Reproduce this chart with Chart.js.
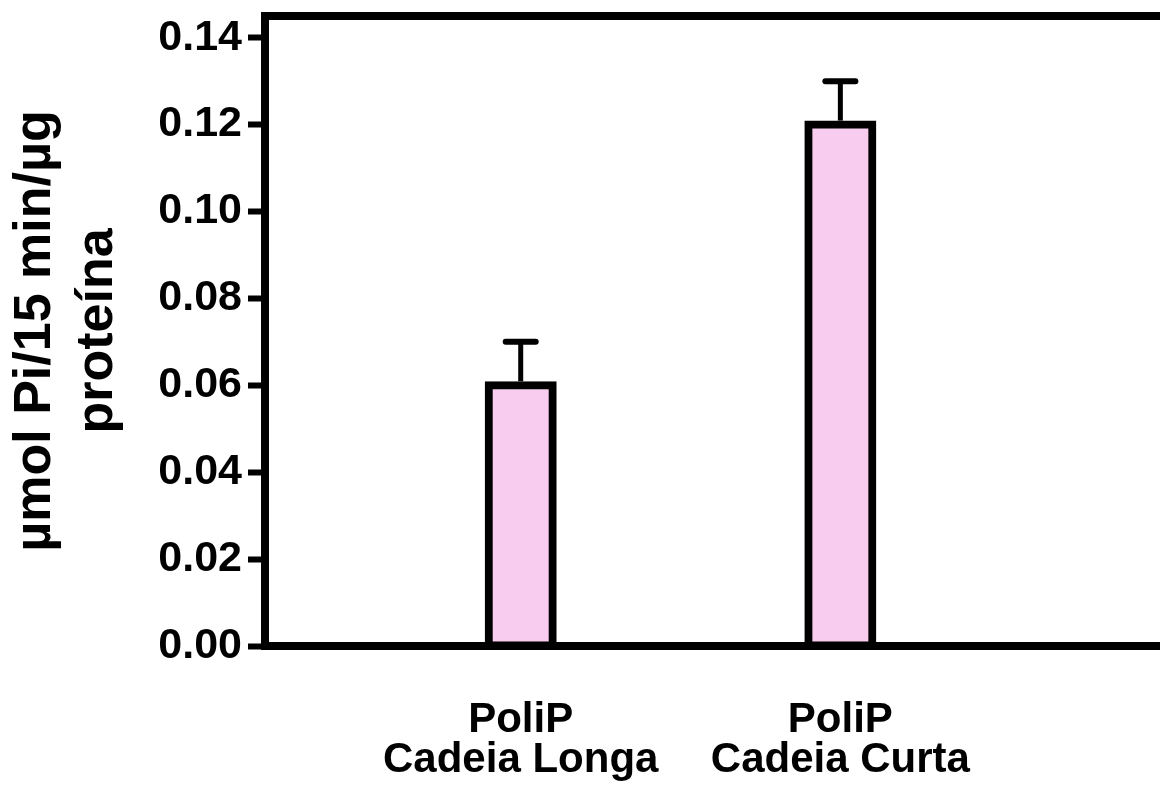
<!DOCTYPE html>
<html>
<head>
<meta charset="utf-8">
<script src="https://cdn.jsdelivr.net/npm/chart.js@4/dist/chart.umd.min.js"></script>
<style>
  html, body { margin: 0; padding: 0; background: #fff; }
  #wrap { width: 1160px; height: 789px; position: relative; }
</style>
</head>
<body>
<div id="wrap"><canvas id="chart"></canvas></div>
<script>
// Polyphosphatase activity per substrate
const categories = [
  ['PoliP', 'Cadeia Longa'],
  ['PoliP', 'Cadeia Curta']
];
const activity = [0.06, 0.12];   // µmol Pi / 15 min / µg protein
const errors   = [0.01, 0.01];   // upper error (SEM)
const yTicks   = [0, 0.02, 0.04, 0.06, 0.08, 0.10, 0.12, 0.14];
const yTitle   = ['µmol Pi/15 min/µg', 'proteína'];

const FONT = "Arial, 'Liberation Sans', Helvetica, sans-serif";
const BLACK = '#000000';
const PINK = 'rgb(248, 204, 238)';

// Upper error bars drawn from the bar values through the y scale
const errorBars = {
  id: 'errorBars',
  afterDatasetsDraw(chart) {
    const { ctx } = chart;
    const yScale = chart.scales.y;
    const meta = chart.getDatasetMeta(0);
    ctx.save();
    ctx.strokeStyle = BLACK;
    meta.data.forEach((bar, i) => {
      const yVal = yScale.getPixelForValue(activity[i]);
      const yErr = yScale.getPixelForValue(activity[i] + errors[i]);
      ctx.lineCap = 'butt';
      ctx.lineWidth = 5;
      ctx.beginPath();
      ctx.moveTo(bar.x, yVal - 4);
      ctx.lineTo(bar.x, yErr);
      ctx.stroke();
      ctx.lineCap = 'round';
      ctx.lineWidth = 6;
      ctx.beginPath();
      ctx.moveTo(bar.x - 15, yErr);
      ctx.lineTo(bar.x + 15, yErr);
      ctx.stroke();
    });
    ctx.restore();
  }
};

// Top edge of the plot frame
const frameTop = {
  id: 'frameTop',
  afterDatasetsDraw(chart) {
    const { ctx, chartArea } = chart;
    ctx.save();
    ctx.strokeStyle = BLACK;
    ctx.lineWidth = 8;
    ctx.beginPath();
    ctx.moveTo(chartArea.left - 4, chartArea.top);
    ctx.lineTo(chartArea.right + 4, chartArea.top);
    ctx.stroke();
    ctx.restore();
  }
};

new Chart(document.getElementById('chart'), {
  type: 'bar',
  data: {
    datasets: [{
      data: activity.map((v, i) => ({ x: i + 1, y: v })),
      backgroundColor: PINK,
      borderColor: BLACK,
      borderWidth: 8,
      borderSkipped: false,
      barThickness: 64,
      inflateAmount: 4
    }]
  },
  options: {
    responsive: true,
    maintainAspectRatio: false,
    animation: false,
    layout: { padding: { top: 16, right: 0, bottom: 0, left: 0 } },
    plugins: { legend: { display: false }, tooltip: { enabled: false } },
    scales: {
      x: {
        type: 'linear',
        min: 0.2,
        max: 3.0,
        offset: false,
        grid: { display: false, offset: false },
        border: { display: true, color: BLACK, width: 8 },
        afterBuildTicks(scale) {
          scale.ticks = categories.map((_, i) => ({ value: i + 1 }));
        },
        afterFit(scale) {
          scale.height = 143;
          scale.paddingLeft = 0;
          scale.paddingRight = 0;
        },
        ticks: {
          padding: 46,
          color: BLACK,
          maxRotation: 0,
          autoSkip: false,
          font: { family: FONT, size: 42, weight: 'bold', lineHeight: '40px' },
          callback: (value) => categories[value - 1] || ''
        }
      },
      y: {
        min: 0,
        max: 0.145,
        grid: {
          display: true,
          drawOnChartArea: false,
          drawTicks: true,
          tickLength: 17,
          tickWidth: 6,
          tickColor: BLACK
        },
        border: { display: true, color: BLACK, width: 8 },
        afterBuildTicks(scale) {
          scale.ticks = yTicks.map(v => ({ value: v }));
        },
        afterFit(scale) {
          scale.width = 265;
          scale.paddingTop = 0;
          scale.paddingBottom = 0;
        },
        ticks: {
          padding: 6,
          color: BLACK,
          font: { family: FONT, size: 43, weight: 'bold' },
          callback: (value) => Number(value).toFixed(2)
        },
        title: {
          display: true,
          text: yTitle,
          color: BLACK,
          padding: { top: 4, bottom: 29 },
          font: { family: FONT, size: 52, weight: 'bold', lineHeight: 1.2 }
        }
      }
    }
  },
  plugins: [errorBars, frameTop]
});
</script>
</body>
</html>
